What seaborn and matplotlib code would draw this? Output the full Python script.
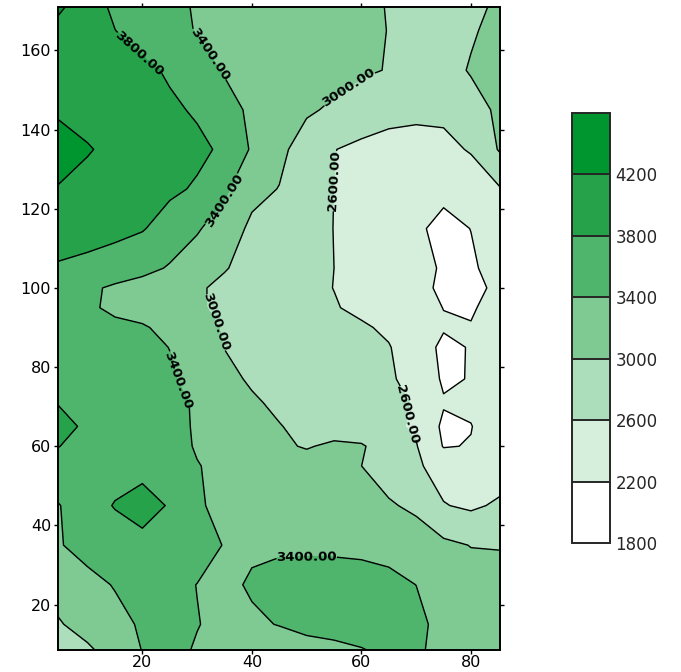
import numpy as np
import matplotlib
matplotlib.use("Agg")
import matplotlib.pyplot as plt
import seaborn as sns

# grid positions (x = columns, y = rows) of the sampled field
x_vals = [4.5, 10, 15, 20, 25, 30, 35, 40, 45, 50, 55, 60, 65, 70, 75, 80, 85.5]
y_vals = [8.5, 15, 25, 35, 45, 55, 60, 65, 71, 77, 85, 90, 95, 100, 105, 115,
          125, 135, 145, 155, 165, 171]

# field values, one list per row (bottom -> top)
row_y008 = [2820, 2940, 3166, 3410, 3480, 3375, 3320, 3280, 3260, 3270, 3300, 3380, 3480, 3450, 3300, 3200, 3150]
row_y015 = [2960, 3150, 3300, 3440, 3480, 3410, 3330, 3360, 3410, 3500, 3560, 3580, 3560, 3480, 3300, 3200, 3150]
row_y025 = [3150, 3300, 3420, 3520, 3490, 3395, 3340, 3430, 3500, 3520, 3530, 3520, 3480, 3398, 3250, 3150, 3100]
row_y035 = [3370, 3520, 3620, 3725, 3640, 3540, 3385, 3360, 3355, 3350, 3345, 3330, 3300, 3200, 3080, 2990, 2985]
row_y045 = [3370, 3650, 3820, 3900, 3780, 3420, 3356, 3303, 3251, 3198, 3145, 3093, 3040, 2926, 2618, 2540, 2660]
row_y055 = [3700, 3680, 3660, 3720, 3600, 3410, 3344, 3275, 3207, 3138, 3070, 3001, 2828, 2653, 2450, 2350, 2420]
row_y060 = [3810, 3700, 3630, 3570, 3490, 3380, 3250, 3140, 3050, 2975, 3060, 3040, 2800, 2620, 2180, 2215, 2420]
row_y065 = [3920, 3740, 3650, 3561, 3472, 3376, 3255, 3133, 3012, 2925, 2842, 2758, 2675, 2552, 2130, 2190, 2400]
row_y071 = [3790, 3700, 3630, 3560, 3480, 3367, 3203, 3039, 2945, 2873, 2801, 2730, 2658, 2580, 2230, 2260, 2400]
row_y077 = [3700, 3640, 3580, 3510, 3440, 3280, 3080, 2962, 2898, 2834, 2771, 2707, 2643, 2486, 2150, 2215, 2380]
row_y085 = [3600, 3580, 3540, 3480, 3395, 3189, 2994, 2931, 2869, 2806, 2744, 2681, 2619, 2400, 2120, 2220, 2400]
row_y090 = [3560, 3520, 3470, 3440, 3291, 3109, 2974, 2908, 2842, 2776, 2711, 2645, 2540, 2360, 2230, 2215, 2350]
row_y095 = [3580, 3450, 3338, 3236, 3133, 3031, 2944, 2864, 2784, 2704, 2624, 2523, 2414, 2305, 2195, 2170, 2320]
row_y100 = [3620, 3470, 3342, 3239, 3136, 3033, 2941, 2855, 2768, 2682, 2595, 2490, 2385, 2280, 2150, 2100, 2290]
row_y105 = [3760, 3700, 3620, 3520, 3365, 3191, 3017, 2908, 2805, 2703, 2600, 2496, 2392, 2288, 2170, 2150, 2350]
row_y115 = [4000, 3950, 3900, 3825, 3640, 3440, 3195, 2930, 2845, 2720, 2595, 2483, 2371, 2259, 2100, 2205, 2450]
row_y125 = [4190, 4110, 4020, 3950, 3866, 3760, 3475, 3100, 2990, 2796, 2598, 2480, 2400, 2330, 2290, 2330, 2590]
row_y135 = [4300, 4220, 4130, 4045, 3960, 3875, 3743, 3356, 3082, 2839, 2609, 2520, 2470, 2450, 2480, 2638, 3053]
row_y145 = [4170, 4100, 4030, 3950, 3858, 3760, 3522, 3341, 3193, 3044, 2950, 2820, 2720, 2690, 2700, 2850, 3080]
row_y155 = [4080, 4030, 3960, 3880, 3756, 3533, 3374, 3308, 3243, 3177, 3111, 3046, 2985, 2850, 2860, 3030, 3150]
row_y165 = [4080, 3933, 3805, 3652, 3504, 3383, 3328, 3273, 3218, 3163, 3107, 3052, 2995, 2860, 2820, 2960, 3120]
row_y171 = [4280, 3970, 3734, 3603, 3471, 3375, 3321, 3267, 3213, 3159, 3105, 3051, 2990, 2880, 2840, 2900, 3080]

levels = [1800, 2200, 2600, 3000, 3400, 3800, 4200, 4600]
cbar_ticks = [1800, 2200, 2600, 3000, 3400, 3800, 4200]
band_colors = ["#ffffff", "#d5efdc", "#acdebb", "#7fc993", "#4fb46c", "#25a24a", "#00962f"]

# where the contour labels sit (near a line of the listed level)
label_spots = [(20, 160), (31, 158), (58, 150), (35, 122), (55, 127),
               (33, 91), (27, 77), (69, 68), (50, 31.6)]

sns.set_style("ticks")
plt.rcParams['font.family'] = ['DejaVu Sans']

Z = np.array([row_y008, row_y015, row_y025, row_y035, row_y045, row_y055, row_y060,
              row_y065, row_y071, row_y077, row_y085, row_y090, row_y095, row_y100,
              row_y105, row_y115, row_y125, row_y135, row_y145, row_y155, row_y165,
              row_y171], dtype=float)
X, Y = np.meshgrid(x_vals, y_vals)

fig = plt.figure(figsize=(6.81, 6.72), dpi=100)
ax = fig.add_axes([0.0852, 0.0327, 0.649, 0.957])
cax = fig.add_axes([0.840, 0.192, 0.0558, 0.640])

cf = ax.contourf(X, Y, Z, levels=levels, colors=band_colors)
cs = ax.contour(X, Y, Z, levels=levels[1:-1], colors="black", linewidths=1.0)
lbls = ax.clabel(cs, fmt="%.2f", fontsize=9.5, inline=True, inline_spacing=3,
                 manual=label_spots)
for t in lbls:
    t.set_fontweight("bold")

ax.set_xlim(4.6, 85.3)
ax.set_ylim(8.5, 171)
ax.set_xticks([20, 40, 60, 80])
ax.set_yticks([20, 40, 60, 80, 100, 120, 140, 160])
ax.tick_params(top=True, right=True, direction="out", length=3, width=1,
               labelsize=11.5, colors="black")
ax.tick_params(axis="x", pad=0.5)
ax.tick_params(axis="y", pad=2)
for sp in ax.spines.values():
    sp.set_visible(True)
    sp.set_linewidth(1.4)
    sp.set_color("black")

cb = fig.colorbar(cf, cax=cax, ticks=cbar_ticks, drawedges=True)
cb.outline.set_linewidth(1.4)
cb.dividers.set_linewidth(1.4)
cb.ax.tick_params(length=0, labelsize=12, pad=4)

fig.savefig("out.png", dpi=100)
